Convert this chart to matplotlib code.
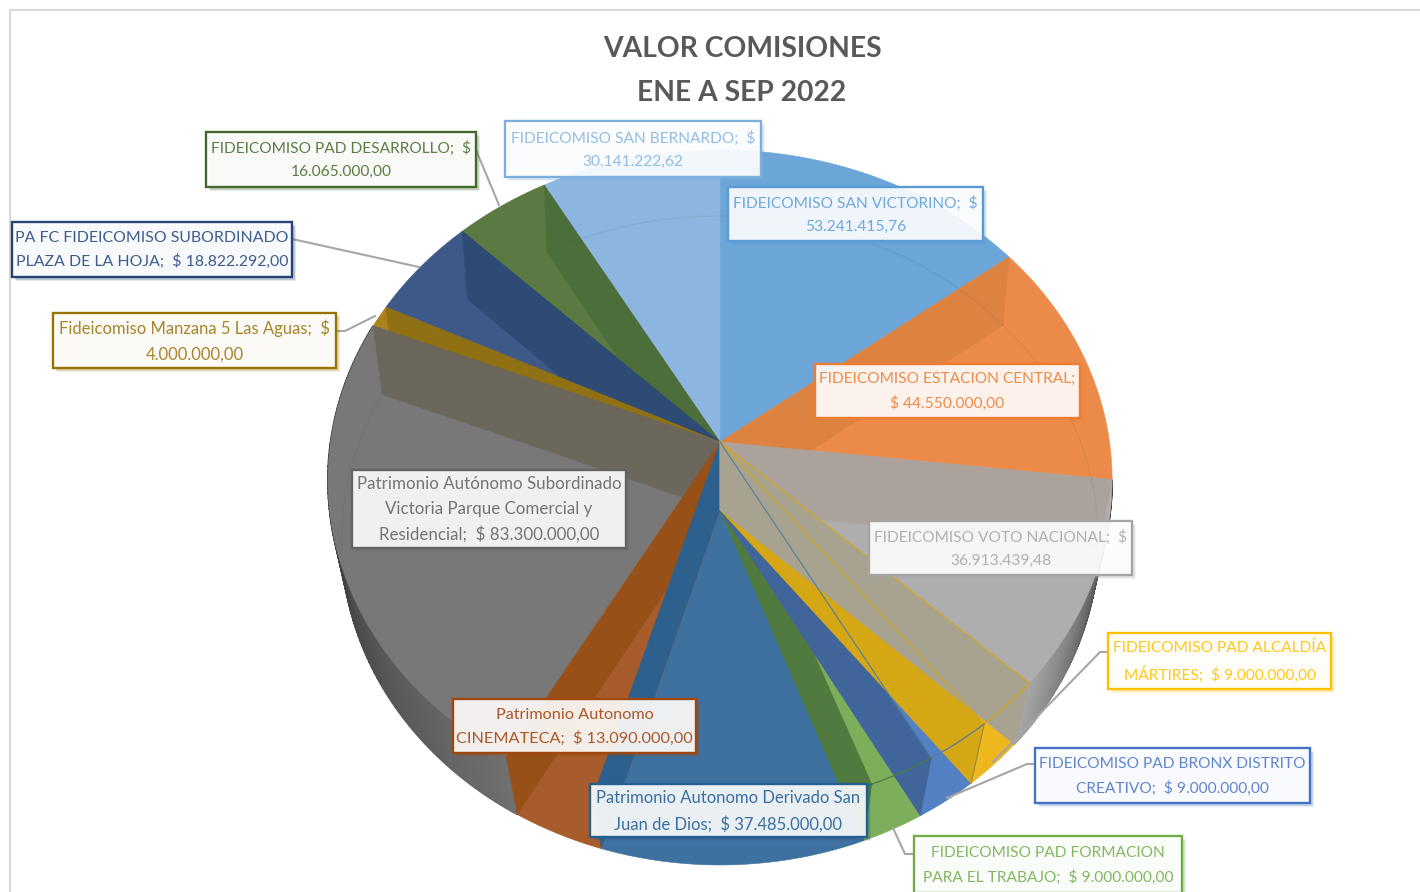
import numpy as np
import matplotlib
matplotlib.use('Agg')
import matplotlib.pyplot as plt
from matplotlib.patches import Polygon, Rectangle

plt.rcParams['font.family'] = ['Lato', 'DejaVu Sans']

# values in pesos, clockwise from the top
names = ['FIDEICOMISO SAN VICTORINO', 'FIDEICOMISO ESTACION CENTRAL', 'FIDEICOMISO VOTO NACIONAL',
         'FIDEICOMISO PAD ALCALDÍA MÁRTIRES', 'FIDEICOMISO PAD BRONX DISTRITO CREATIVO',
         'FIDEICOMISO PAD FORMACION PARA EL TRABAJO', 'Patrimonio Autonomo Derivado San Juan de Dios',
         'Patrimonio Autonomo CINEMATECA', 'Patrimonio Autónomo Subordinado Victoria Parque Comercial y Residencial',
         'Fideicomiso Manzana 5 Las Aguas', 'PA FC FIDEICOMISO SUBORDINADO PLAZA DE LA HOJA',
         'FIDEICOMISO PAD DESARROLLO', 'FIDEICOMISO SAN BERNARDO']
values = [53241415.76, 44550000, 36913439.48, 9000000, 9000000, 9000000, 37485000,
          13090000, 83300000, 4000000, 18822292, 16065000, 30141222.62]
label_texts = ['FIDEICOMISO SAN VICTORINO;  $\n53.241.415,76',
               'FIDEICOMISO ESTACION CENTRAL;\n$ 44.550.000,00',
               'FIDEICOMISO VOTO NACIONAL;  $\n36.913.439,48',
               'FIDEICOMISO PAD ALCALDÍA\nMÁRTIRES;  $ 9.000.000,00',
               'FIDEICOMISO PAD BRONX DISTRITO\nCREATIVO;  $ 9.000.000,00',
               'FIDEICOMISO PAD FORMACION\nPARA EL TRABAJO;  $ 9.000.000,00',
               'Patrimonio Autonomo Derivado San\nJuan de Dios;  $ 37.485.000,00',
               'Patrimonio Autonomo\nCINEMATECA;  $ 13.090.000,00',
               'Patrimonio Autónomo Subordinado\nVictoria Parque Comercial y\nResidencial;  $ 83.300.000,00',
               'Fideicomiso Manzana 5 Las Aguas;  $\n4.000.000,00',
               'PA FC FIDEICOMISO SUBORDINADO\nPLAZA DE LA HOJA;  $ 18.822.292,00',
               'FIDEICOMISO PAD DESARROLLO;  $\n16.065.000,00',
               'FIDEICOMISO SAN BERNARDO;  $\n30.141.222,62']
title_text = 'VALOR COMISIONES\nENE A SEP 2022'

# styles
line_cols = ['#5B9BD5', '#ED7D31', '#A5A5A5', '#FFC000', '#4472C4', '#70AD47', '#255E91',
             '#9E480E', '#636363', '#997300', '#264478', '#43682B', '#7CAFDD']
text_cols = ['#6FA8DC', '#ED8B4A', '#B0B0B0', '#FFC81E', '#5F86CC', '#82B862', '#3A6F9F',
             '#A9582A', '#757575', '#A8842A', '#3D5C8F', '#5B7D45', '#94BDE5']
face_cols = ['#6CA5D8', '#EC8B49', '#AEAEAE', '#EEB71E', '#5480C4', '#7DAF5A', '#3E71A0',
             '#A85C2C', '#787878', '#AA8219', '#3E5987', '#5A7A42', '#8CB6E0']
label_sizes = [11.2, 11.2, 11.2, 11.2, 11.2, 11.2, 12.0, 11.7, 12.2, 12.0, 11.4, 11.2, 11.2]
top_face = [0, 1, 2, 8, 9, 10, 11, 12]
bottom_face = [3, 4, 5, 6, 7]
# slice boundary index, colour, back to front
walls = [(12, '#4C6E3A'), (11, '#2D4B75'), (10, '#8F7012'), (9, '#6B675C'), (1, '#DD8342'),
         (8, '#985019'), (7, '#2D608C'), (6, '#507A3E'), (5, '#3F659B'), (4, '#D6A714'),
         (2, '#ABA39B'), (3, '#A8A291')]
boxes = [(728, 187, 983, 241), (815, 364, 1080, 418), (869, 521, 1132, 575), (1108, 633, 1331, 689),
         (1035, 748, 1310, 803), (914, 836, 1182, 893), (590, 784, 867, 837), (453, 699, 696, 753),
         (352, 470, 626, 548), (53, 313, 336, 368), (12, 222, 292, 277), (206, 132, 476, 187),
         (505, 121, 761, 177)]
leaders = [[(1108, 652), (1100, 652), (993, 762)], [(1035, 764), (1027, 764), (947, 798)],
           [(914, 854), (905, 854), (893, 828)], [(336, 331), (345, 331), (375, 316)],
           [(292, 239), (419, 267)], [(476, 150), (499, 205)]]


def top_pt(t):
    w = 1 + 0.115 * np.cos(t)
    return np.column_stack([720 + 389.5 * np.sin(t) / w, 442 - 325.6 * np.cos(t) / w])


def bot_pt(t):
    w = 1 + 0.094 * np.cos(t)
    return np.column_stack([720 + 376.7 * np.sin(t) / w, 510 - 321.6 * np.cos(t) / w])


apex_top = np.array([[720.0, 442.0]])
apex_bot = np.array([[720.0, 510.0]])

bounds = np.concatenate([[0], np.cumsum(values)]) / np.sum(values) * 2 * np.pi


def arc(i):
    return np.linspace(bounds[i], bounds[i + 1], 60)


fig = plt.figure(figsize=(14.2, 8.92), dpi=100)
ax = fig.add_axes([0, 0, 1, 1])
ax.set_xlim(0, 1420)
ax.set_ylim(892, 0)
ax.axis('off')


def fill(pts, col, z=2, lw=0.4):
    ax.add_patch(Polygon(pts, closed=True, facecolor=col, edgecolor=col, lw=lw, zorder=z))


# chart border
ax.plot([10, 10, 1420], [892, 10, 10], color='#D9D9D9', lw=1.5, zorder=1)

# outer gray walls with their shading
for i, lo, hi in [(2, 45, 165), (8, 112, 30)]:
    t = np.linspace(bounds[i], bounds[i + 1], 90)
    shade = np.linspace(lo, hi, len(t) - 1) / 255
    for k in range(len(t) - 1):
        seg = t[k:k + 2]
        fill(np.vstack([top_pt(seg), bot_pt(seg)[::-1]]), (shade[k], shade[k], shade[k]), lw=1.2)

for i in top_face:
    fill(np.vstack([apex_top, top_pt(arc(i))]), face_cols[i], 3)
for i in bottom_face:
    fill(np.vstack([apex_bot, bot_pt(arc(i))]), face_cols[i], 3)

# inner faces of the slices
for b, col in walls:
    t = np.array([bounds[b]])
    fill(np.vstack([apex_top, top_pt(t), bot_pt(t), apex_bot]), col, 4)

# faint rim of the lower disc seen through the top
for i in [0, 1, 8, 12]:
    pts = bot_pt(arc(i))
    ax.plot(pts[:, 0], pts[:, 1], color='#555555', alpha=0.1, lw=1, zorder=5)

# thin edges of the lower slices
for i, col in [(2, '#D6A714'), (3, '#D6A714'), (4, '#4F7FA0'), (5, '#4E7A3C'), (6, '#2D608C')]:
    t = arc(i if i > 2 else 3)
    pts = top_pt(t)
    if i > 2:
        ax.plot(pts[:, 0], pts[:, 1], color=col, lw=0.9, zorder=6)
    p = top_pt(np.array([bounds[i + 1]]))[0]
    if i < 5:
        ax.plot([720, p[0]], [442, p[1]], color=col, lw=0.8, zorder=6)
q = bot_pt(np.array([bounds[4]]))[0]
p = top_pt(np.array([bounds[4]]))[0]
ax.plot([p[0], q[0]], [p[1], q[1]], color='#9A8A40', lw=0.8, zorder=6)

# leader lines
for pts in leaders:
    xs, ys = zip(*pts)
    ax.plot(xs, ys, color='#A6A6A6', lw=1.5, zorder=7)

# data labels
for i, (x0, y0, x1, y1) in enumerate(boxes):
    for off, alpha in [(4, 0.12), (2.5, 0.2)]:
        ax.add_patch(Rectangle((x0 + off, y0 + off), x1 - x0, y1 - y0, facecolor=line_cols[i],
                               edgecolor='none', alpha=alpha, zorder=8))
    ax.add_patch(Rectangle((x0, y0), x1 - x0, y1 - y0, facecolor=(1, 1, 1, 0.9),
                           edgecolor=line_cols[i], lw=1.7, zorder=9))
    ax.text((x0 + x1) / 2, (y0 + y1) / 2 + 0.5, label_texts[i], color=text_cols[i], fontsize=label_sizes[i],
            ha='center', va='center', linespacing=1.8 * 11.2 / label_sizes[i], zorder=10)

ax.text(742, 71, title_text, color='#595959', fontsize=20.3, fontweight='bold', ha='center', va='center',
        linespacing=1.83, zorder=10)

fig.savefig('out.png', dpi=100)
